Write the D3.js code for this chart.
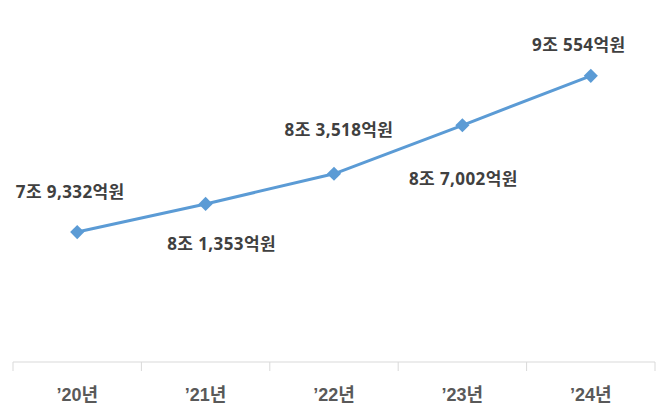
<!DOCTYPE html>
<html>
<head>
<meta charset="utf-8">
<script src="https://cdn.jsdelivr.net/npm/d3@7"></script>
<style>
  body { margin: 0; background: #fff; }
  text { font-family: "Open Sans", "Noto Sans CJK KR", sans-serif; }
  .xlabel { font-family: "Liberation Sans", "Noto Sans CJK KR", sans-serif; }
</style>
</head>
<body>
<div id="chart"></div>
<script>
// data
var years = ["’20년", "’21년", "’22년", "’23년", "’24년"];
var values = [79332, 81353, 83518, 87002, 90554]; // 억원

// label placement (layout only)
var labelOffsets = [[-7, -40], [16, 40], [5, -44], [1, 54], [-12, -31]];

var width = 670, height = 418;

var svg = d3.select("#chart")
  .append("svg")
  .attr("width", width)
  .attr("height", height);

// x axis: categories
var x = d3.scaleBand()
  .domain(years)
  .range([13, 655]);

// y axis (hidden)
var y = d3.scaleLinear()
  .domain([70000, 96000])
  .range([362, 0]);

var axisY = 362;

// axis line
svg.append("line")
  .attr("x1", x.range()[0])
  .attr("x2", x.range()[1])
  .attr("y1", axisY)
  .attr("y2", axisY)
  .attr("stroke", "#d9d9d9")
  .attr("stroke-width", 1);

// ticks at band boundaries
var bounds = years.map(function(d) { return x(d); }).concat([x.range()[1]]);
svg.selectAll(".tick")
  .data(bounds)
  .enter()
  .append("line")
  .attr("x1", function(d) { return d; })
  .attr("x2", function(d) { return d; })
  .attr("y1", axisY)
  .attr("y2", axisY + 9)
  .attr("stroke", "#d9d9d9")
  .attr("stroke-width", 1);

// category labels
svg.selectAll(".xlabel")
  .data(years)
  .enter()
  .append("text")
  .attr("class", "xlabel")
  .attr("x", function(d) { return x(d) + x.bandwidth() / 2; })
  .attr("y", 401)
  .attr("text-anchor", "middle")
  .attr("font-size", 18)
  .attr("font-weight", "bold")
  .attr("fill", "#595959")
  .text(function(d) { return d; });

var pts = years.map(function(d, i) {
  return { year: d, value: values[i], i: i };
});

// line
svg.append("path")
  .datum(pts)
  .attr("fill", "none")
  .attr("stroke", "#5b9bd5")
  .attr("stroke-width", 3)
  .attr("stroke-linejoin", "round")
  .attr("d", d3.line()
    .x(function(d) { return x(d.year) + x.bandwidth() / 2; })
    .y(function(d) { return y(d.value); })
  );

// diamond markers
svg.selectAll(".marker")
  .data(pts)
  .enter()
  .append("path")
  .attr("d", d3.symbol().type(d3.symbolSquare).size(100))
  .attr("transform", function(d) {
    return "translate(" + (x(d.year) + x.bandwidth() / 2) + "," + y(d.value) + ") rotate(45)";
  })
  .attr("fill", "#5b9bd5");

// value labels
var fmt = d3.format(",");
svg.selectAll(".vlabel")
  .data(pts)
  .enter()
  .append("text")
  .attr("x", function(d) { return x(d.year) + x.bandwidth() / 2 + labelOffsets[d.i][0]; })
  .attr("y", function(d) { return y(d.value) + labelOffsets[d.i][1]; })
  .attr("dy", "0.35em")
  .attr("text-anchor", "middle")
  .attr("font-size", 17)
  .attr("letter-spacing", 0.4)
  .attr("font-weight", "bold")
  .attr("fill", "#404040")
  .text(function(d) {
    return Math.floor(d.value / 10000) + "조 " + fmt(d.value % 10000) + "억원";
  });
</script>
</body>
</html>
